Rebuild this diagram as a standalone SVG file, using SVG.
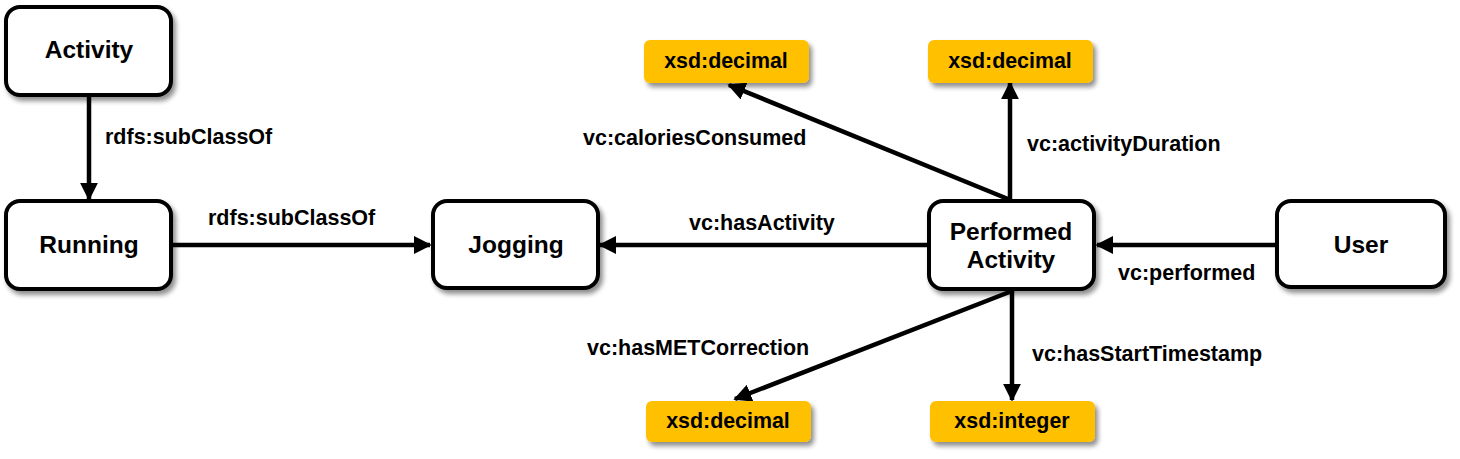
<svg xmlns="http://www.w3.org/2000/svg" width="1460" height="459" viewBox="0 0 1460 459">
<style>
.node rect{fill:#fff;stroke:#000;stroke-width:4;filter:url(#sh)}
.lit rect{fill:#ffc000;stroke:none;filter:url(#sh)}
.nt{font-family:"Liberation Sans",Arial,sans-serif;font-weight:bold;font-size:24.5px;text-anchor:middle;fill:#000}
.lt{font-family:"Liberation Sans",Arial,sans-serif;font-weight:bold;font-size:21.4px;text-anchor:middle;fill:#000}
.el{font-family:"Liberation Sans",Arial,sans-serif;font-weight:bold;font-size:21.5px;fill:#000}
.e{stroke:#000;stroke-width:4.5;fill:none;marker-end:url(#ar)}
</style>
<defs>
<filter id="sh" x="-10%" y="-10%" width="130%" height="140%">
<feGaussianBlur in="SourceAlpha" stdDeviation="2.5"/>
<feOffset dx="3" dy="4" result="b"/>
<feComponentTransfer><feFuncA type="linear" slope="0.45"/></feComponentTransfer>
<feMerge><feMergeNode/><feMergeNode in="SourceGraphic"/></feMerge>
</filter>
<marker id="ar" viewBox="0 0 10 10" refX="9" refY="5" markerWidth="4" markerHeight="4" orient="auto" markerUnits="strokeWidth">
<path d="M0,0 L10,5 L0,10 z" fill="#000"/>
</marker>
</defs>
<g id="connectors">
<line class="e" x1="89" y1="97" x2="89" y2="199"/>
<line class="e" x1="173" y1="245" x2="430" y2="245"/>
<line class="e" x1="927" y1="245" x2="600" y2="245"/>
<line class="e" x1="1275" y1="245" x2="1097" y2="245"/>
<line class="e" x1="1008" y1="199" x2="729" y2="85"/>
<line class="e" x1="1010" y1="199" x2="1010" y2="83"/>
<line class="e" x1="1012" y1="291" x2="735" y2="399"/>
<line class="e" x1="1012" y1="291" x2="1012" y2="400"/>
<text class="el" x="105" y="144">rdfs:subClassOf</text>
<text class="el" x="208" y="225">rdfs:subClassOf</text>
<text class="el" x="689" y="230">vc:hasActivity</text>
<text class="el" x="583" y="145">vc:caloriesConsumed</text>
<text class="el" x="1027" y="151">vc:activityDuration</text>
<text class="el" x="1118" y="280">vc:performed</text>
<text class="el" x="587" y="355">vc:hasMETCorrection</text>
<text class="el" x="1032" y="361">vc:hasStartTimestamp</text>
</g>
<g id="activity" class="node"><rect x="6" y="7" width="165" height="88" rx="14"/><text class="nt" x="89" y="58">Activity</text></g>
<g id="running" class="node"><rect x="6" y="201" width="165" height="88" rx="14"/><text class="nt" x="89" y="253">Running</text></g>
<g id="jogging" class="node"><rect x="433" y="201" width="165" height="87" rx="14"/><text class="nt" x="516" y="253">Jogging</text></g>
<g id="performed" class="node"><rect x="929" y="201" width="165" height="88" rx="14"/><text class="nt" x="1011" y="240">Performed</text><text class="nt" x="1011" y="268">Activity</text></g>
<g id="user" class="node"><rect x="1277" y="201" width="168" height="86" rx="14"/><text class="nt" x="1361" y="253">User</text></g>
<g id="dec1" class="lit"><rect x="644" y="40" width="165" height="43" rx="6"/><text class="lt" x="726" y="68">xsd:decimal</text></g>
<g id="dec2" class="lit"><rect x="928" y="40" width="165" height="43" rx="6"/><text class="lt" x="1010" y="68">xsd:decimal</text></g>
<g id="dec3" class="lit"><rect x="646" y="401" width="165" height="41" rx="6"/><text class="lt" x="728" y="428">xsd:decimal</text></g>
<g id="int1" class="lit"><rect x="930" y="401" width="165" height="41" rx="6"/><text class="lt" x="1012" y="428">xsd:integer</text></g>
</svg>
